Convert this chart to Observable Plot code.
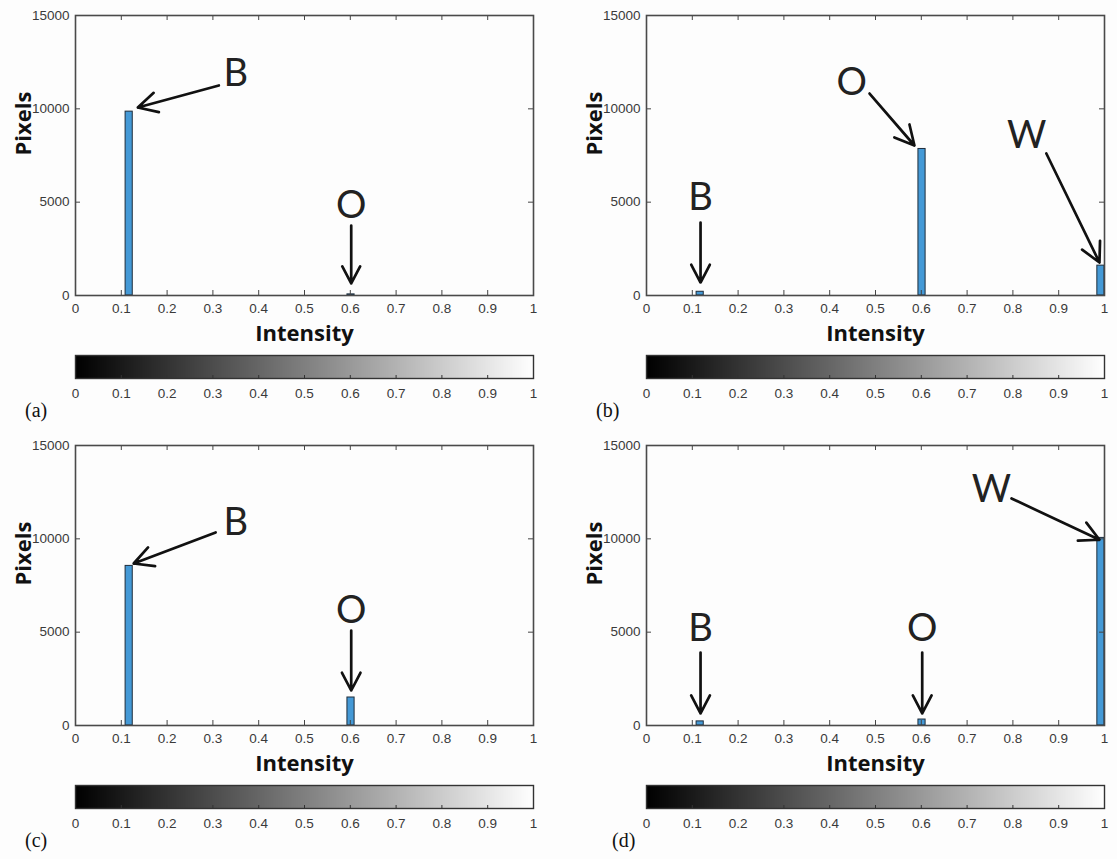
<!DOCTYPE html>
<html><head><meta charset="utf-8">
<script src="https://cdn.jsdelivr.net/npm/d3@7"></script>
<script src="https://cdn.jsdelivr.net/npm/@observablehq/plot@0.6"></script>
<style>
html,body{margin:0;padding:0;background:#fff;}
#root{position:relative;width:1117px;height:859px;background:#fdfdfd;overflow:hidden;}
.piece{position:absolute;}
.piece g[aria-label$="tick label"]{font-size:13.5px;}
.plabel{position:absolute;font-family:"Liberation Serif","Times New Roman",serif;font-size:20px;color:#111;line-height:24px;}
</style></head><body><div id="root"></div>
<script>
// ---- data ----
const panelLabels = ["(a)", "(b)", "(c)", "(d)"];
const binCount = 64;                       // histogram bins over [0, 1]
const barBins = [[7, 38], [7, 38, 63], [7, 38], [7, 38, 63]];
const barPixels = [[9850, 60], [200, 7850, 1600], [8550, 1500], [220, 320, 10050]];
const xTicks = [0, 0.1, 0.2, 0.3, 0.4, 0.5, 0.6, 0.7, 0.8, 0.9, 1];
const yTicks = [0, 5000, 10000, 15000];
const xLabel = "Intensity";
const yLabel = "Pixels";
const noteLetters = [["B", "O"], ["B", "O", "W"], ["B", "O"], ["B", "O", "W"]];
const noteTextX = [[0.35, 0.602], [0.118, 0.448, 0.830], [0.350, 0.602], [0.118, 0.602, 0.753]];
const noteTextY = [[11900, 4820], [5250, 11400, 8570], [10880, 6160], [5200, 5200, 12600]];
const arrowX1 = [[0.313, 0.602], [0.118, 0.487, 0.873], [0.306, 0.602], [0.118, 0.602, 0.797]];
const arrowY1 = [[11250, 3750], [3911, 10821, 7607], [10339, 5089], [3911, 3911, 12161]];
const arrowX2 = [[0.136, 0.602], [0.118, 0.585, 0.989], [0.127, 0.602], [0.118, 0.602, 0.989]];
const arrowY2 = [[10071, 643], [696, 8036, 1768], [8679, 1875], [643, 643, 9950]];

// ---- layout ----
const offsets = [[0, 0], [571, 0], [0, 430], [571, 430]];
const labelPos = [[25, 398], [596, 398], [25, 828], [612, 828]];
const plotW = 458, plotH = 280, mL = 75, mT = 15, mB = 50, W = 560;

const root = document.getElementById("root");

function place(node, left, top) {
  node.classList.add("piece");
  node.style.left = left + "px";
  node.style.top = top + "px";
  root.appendChild(node);
}

const baseStyle = {fontFamily: "Liberation Sans, Arial, sans-serif", fontSize: "13px", background: "transparent", overflow: "visible"};

panelLabels.forEach((lab, i) => {
  const [ox, oy] = offsets[i];
  const bars = barBins[i].map((b, j) => ({x1: b / binCount, x2: (b + 1) / binCount, y: barPixels[i][j]}));
  const notes = noteLetters[i].map((t, j) => ({t, x: noteTextX[i][j], y: noteTextY[i][j]}));
  const arrows = noteLetters[i].map((t, j) => ({x1: arrowX1[i][j], y1: arrowY1[i][j], x2: arrowX2[i][j], y2: arrowY2[i][j]}));

  const hist = Plot.plot({
    width: W, height: mT + plotH + mB,
    marginLeft: mL, marginTop: mT, marginBottom: mB, marginRight: W - mL - plotW,
    style: baseStyle,
    x: {domain: [0, 1], axis: null},
    y: {domain: [0, 15000], axis: null},
    marks: [
      Plot.rectY(bars, {x1: "x1", x2: "x2", y: "y", fill: "#4499d6", stroke: "#1e2c3a", strokeWidth: 1}),
      Plot.tickX(xTicks, {x: d => d, insetTop: plotH - 5, stroke: "#444"}),
      Plot.tickX(xTicks, {x: d => d, insetBottom: plotH - 5, stroke: "#444"}),
      Plot.tickY(yTicks, {y: d => d, insetRight: plotW - 5, stroke: "#444"}),
      Plot.tickY(yTicks, {y: d => d, insetLeft: plotW - 5, stroke: "#444"}),
      Plot.frame({stroke: "#4a4a4a", strokeWidth: 1.6}),
      Plot.axisX({ticks: xTicks, tickSize: 0, tickPadding: 8, fontSize: 13, fill: "#3a3a3a", tickFormat: d => String(d), label: null}),
      Plot.axisY({ticks: yTicks, tickSize: 0, tickPadding: 6, fontSize: 13, fill: "#3a3a3a", tickFormat: d => String(d), label: null}),
      Plot.text([xLabel], {text: d => d, frameAnchor: "bottom", dy: 45, fontSize: 22, fontWeight: "bold", fontFamily: "Open Sans", fill: "#111"}),
      Plot.text([yLabel], {text: d => d, frameAnchor: "left", dx: -52, rotate: -90, fontSize: 22, fontWeight: "bold", fontFamily: "Open Sans", fill: "#111"}),
      Plot.arrow(arrows, {x1: "x1", y1: "y1", x2: "x2", y2: "y2", stroke: "#111", strokeWidth: 2.7, headLength: 12, headAngle: 55}),
      Plot.text(notes, {x: "x", y: "y", text: "t", fontSize: 38, fontFamily: "Lato", fontWeight: 400, fill: "#222"})
    ]
  });
  place(hist, ox, oy);

  const cbH = 23, cbT = 10, cbB = 27;
  const cbar = Plot.plot({
    width: W, height: cbT + cbH + cbB,
    marginLeft: mL, marginTop: cbT, marginBottom: cbB, marginRight: W - mL - plotW,
    style: baseStyle,
    x: {domain: [0, 1], axis: null},
    y: {domain: [0, 1], axis: null},
    color: {type: "linear", domain: [0, 1], range: ["#000000", "#ffffff"]},
    marks: [
      Plot.raster({fill: (x, y) => x, x1: 0, x2: 1, y1: 0, y2: 1, pixelSize: 1}),
      Plot.tickX(xTicks.slice(1, -1), {x: d => d, insetTop: cbH - 3, stroke: "#333"}),
      Plot.frame({stroke: "#333", strokeWidth: 1.4}),
      Plot.axisX({ticks: xTicks, tickSize: 0, tickPadding: 10, fontSize: 13, fill: "#3a3a3a", tickFormat: d => String(d), label: null})
    ]
  });
  place(cbar, ox, oy + mT + plotH + mB);

  const pl = document.createElement("div");
  pl.className = "plabel";
  pl.textContent = lab;
  pl.style.left = labelPos[i][0] + "px";
  pl.style.top = labelPos[i][1] + "px";
  root.appendChild(pl);
});
</script>
</body></html>
